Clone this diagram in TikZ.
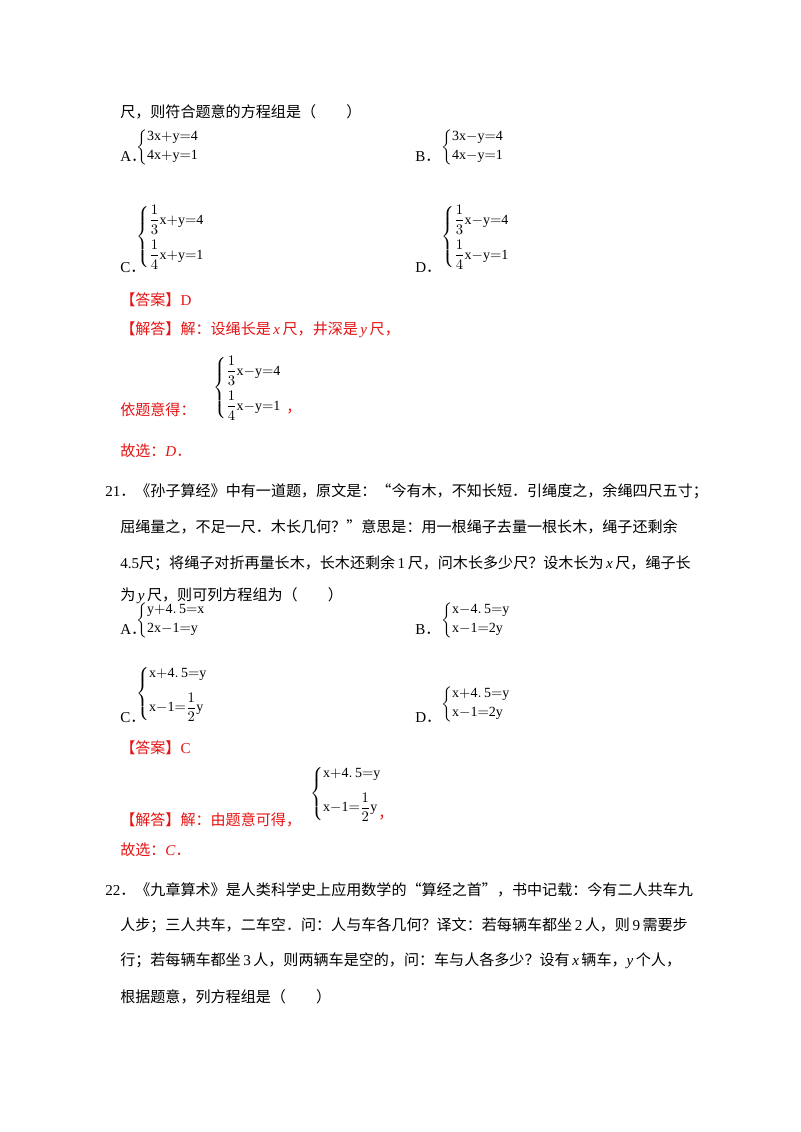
\documentclass[tikz,border=0pt]{standalone}
\usepackage{amsmath}
\usepackage{fontspec}
\setmainfont{Liberation Serif}
\newfontfamily\cjk{Noto Sans CJK SC}
\newcommand\zh[1]{{\cjk #1}}
\newcommand\mysys[2]{$\left\{\begin{array}{@{}l@{}}#1\\[2pt]#2\end{array}\right.$}
\newcommand\fsys[2]{$\left\{\begin{array}{@{}l@{}}#1\\[8pt]#2\end{array}\right.$}
\definecolor{ans}{RGB}{230,20,20}
\begin{document}
\begin{tikzpicture}[x=0.75pt,y=-0.75pt,
  txt/.style={anchor=west,inner sep=0,font=\fontsize{11.3}{13}\selectfont},
  red/.style={txt,text=ans},
  sy/.style={anchor=west,inner sep=0,font=\fontsize{10.5}{12}\selectfont}]
\useasboundingbox[fill=white] (0,0) rectangle (800,1132);
\node[txt] (l1) at (120,112) {\zh{尺，则符合题意的方程组是（　　）}};
\node[txt] (a1) at (120,157) {A\zh{．}};
\node[sy] (sa1) at (136,147) {\mysys{\mathrm{3x{+}y{=}4}}{\mathrm{4x{+}y{=}1}}};
\node[txt] (b1) at (415,157) {B\zh{．}};
\node[sy] (sb1) at (441,147) {\mysys{\mathrm{3x{-}y{=}4}}{\mathrm{4x{-}y{=}1}}};
\node[txt] (c1) at (120,268) {C\zh{．}};
\node[sy] (sc1) at (136,237) {\fsys{\dfrac{1}{3}\mathrm{x{+}y{=}4}}{\dfrac{1}{4}\mathrm{x{+}y{=}1}}};
\node[txt] (d1) at (415,268) {D\zh{．}};
\node[sy] (sd1) at (441,237) {\fsys{\dfrac{1}{3}\mathrm{x{-}y{=}4}}{\dfrac{1}{4}\mathrm{x{-}y{=}1}}};
\node[red] (ans1) at (120,300) {\zh{【答案】}D};
\node[red] (sol1) at (120,330) {\zh{【解答】解：设绳长是}\,\textit{x}\,\zh{尺，井深是}\,\textit{y}\,\zh{尺，}};
\node[sy] (ss1) at (213,388) {\fsys{\dfrac{1}{3}\mathrm{x{-}y{=}4}}{\dfrac{1}{4}\mathrm{x{-}y{=}1}}};
\node[red] (yi) at (120,410) {\zh{依题意得：}};
\node[red] (cm1) at (286,412) {\zh{，}};
\node[red] (gx1) at (120,451) {\zh{故选：}\textit{D}\zh{．}};
\node[txt] (p1) at (105,491) {21\zh{．《孙子算经》中有一道题，原文是：“今有木，不知长短．引绳度之，余绳四尺五寸；}};
\node[txt] (p2) at (120,527) {\zh{屈绳量之，不足一尺．木长几何？”意思是：用一根绳子去量一根长木，绳子还剩余}};
\node[txt] (p3) at (120,563) {4.5\zh{尺；将绳子对折再量长木，长木还剩余}\,1\,\zh{尺，问木长多少尺？设木长为}\,\textit{x}\,\zh{尺，绳子长}};
\node[txt] (p4) at (120,596) {\zh{为}\,\textit{y}\,\zh{尺，则可列方程组为（　　）}};
\node[txt] (a2) at (120,630) {A\zh{．}};
\node[sy] (sa2) at (136,620) {\mysys{\mathrm{y{+}4.\,5{=}x}}{\mathrm{2x{-}1{=}y}}};
\node[txt] (b2) at (415,630) {B\zh{．}};
\node[sy] (sb2) at (441,620) {\mysys{\mathrm{x{-}4.\,5{=}y}}{\mathrm{x{-}1{=}2y}}};
\node[txt] (c2) at (120,718) {C\zh{．}};
\node[sy] (sc2) at (136,694) {\fsys{\mathrm{x{+}4.\,5{=}y}}{\mathrm{x{-}1{=}}\dfrac{1}{2}\mathrm{y}}};
\node[txt] (d2) at (415,718) {D\zh{．}};
\node[sy] (sd2) at (441,704) {\mysys{\mathrm{x{+}4.\,5{=}y}}{\mathrm{x{-}1{=}2y}}};
\node[red] (ans2) at (120,748) {\zh{【答案】}C};
\node[sy] (ss2) at (310,794) {\fsys{\mathrm{x{+}4.\,5{=}y}}{\mathrm{x{-}1{=}}\dfrac{1}{2}\mathrm{y}}};
\node[red] (sol2) at (120,820) {\zh{【解答】解：由题意可得，}};
\node[red] (cm2) at (378,818) {\zh{，}};
\node[red] (gx2) at (120,850) {\zh{故选：}\textit{C}\zh{．}};
\node[txt] (q1) at (105,890) {22\zh{．《九章算术》是人类科学史上应用数学的“算经之首”，书中记载：今有二人共车九}};
\node[txt] (q2) at (120,925) {\zh{人步；三人共车，二车空．问：人与车各几何？译文：若每辆车都坐}\,2\,\zh{人，则}\,9\,\zh{需要步}};
\node[txt] (q3) at (120,961) {\zh{行；若每辆车都坐}\,3\,\zh{人，则两辆车是空的，问：车与人各多少？设有}\,\textit{x}\,\zh{辆车，}\textit{y}\,\zh{个人，}};
\node[txt] (q4) at (120,997) {\zh{根据题意，列方程组是（　　）}};
\end{tikzpicture}
\end{document}
